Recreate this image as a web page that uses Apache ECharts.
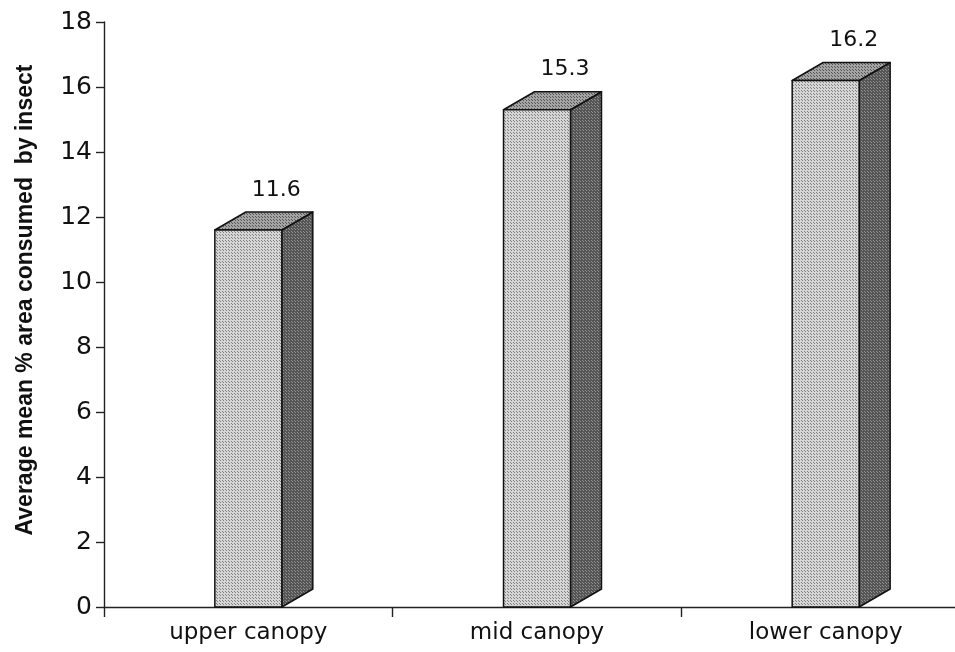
<!DOCTYPE html>
<html>
<head>
<meta charset="utf-8">
<script src="https://cdn.jsdelivr.net/npm/echarts@6/dist/echarts.min.js"></script>
<style>
  html, body { margin: 0; padding: 0; background: #fff; }
  #chart { width: 955px; height: 652px; }
</style>
</head>
<body>
<div id="chart"></div>
<script>
// Leaf area consumed by insects at three canopy levels
const categories = ['upper canopy', 'mid canopy', 'lower canopy'];
const consumed = [11.6, 15.3, 16.2];
const yTicks = [0, 2, 4, 6, 8, 10, 12, 14, 16, 18];
const yTitle = 'Average mean % area consumed  by insect';

// Small stippled tile used as a fill pattern
function stipple(bg, fg, step) {
  const c = document.createElement('canvas');
  c.width = step; c.height = step;
  const g = c.getContext('2d');
  g.fillStyle = bg;
  g.fillRect(0, 0, step, step);
  g.fillStyle = fg;
  g.fillRect(0, 0, 1, 1);
  g.fillRect(Math.floor(step / 2), Math.floor(step / 2), 1, 1);
  return { image: c, repeat: 'repeat' };
}

const frontFill = stipple('#d6d6d6', '#808080', 3);
const sideFill = stipple('#555555', '#8f8f8f', 3);
const topFill = stipple('#a4a4a4', '#555555', 3);

const numFont = 'DejaVu Sans, Verdana, sans-serif';

const chart = echarts.init(document.getElementById('chart'));

// 3D block: front face, right side face and top face, with value above
function renderBlock(params, api) {
  const idx = api.value(0);
  const val = api.value(1);
  const top = api.coord([idx, val]);
  const base = api.coord([idx, 0]);
  const band = api.size([1, 0])[0];
  const w = band * 0.232;
  const dx = 31, dy = 18;
  const x0 = top[0] - w / 2, x1 = top[0] + w / 2;
  const yT = top[1], yB = base[1];
  const edge = { stroke: '#111', lineWidth: 1.5, lineJoin: 'round' };
  return {
    type: 'group',
    children: [
      {
        type: 'polygon',
        shape: { points: [[x1, yT], [x1 + dx, yT - dy], [x1 + dx, yB - dy], [x1, yB]] },
        style: Object.assign({ fill: sideFill }, edge)
      },
      {
        type: 'polygon',
        shape: { points: [[x0, yT], [x0 + dx, yT - dy], [x1 + dx, yT - dy], [x1, yT]] },
        style: Object.assign({ fill: topFill }, edge)
      },
      {
        type: 'rect',
        shape: { x: x0, y: yT, width: w, height: yB - yT },
        style: Object.assign({ fill: frontFill }, edge)
      },
      {
        type: 'text',
        style: {
          text: String(val),
          x: top[0] + 28,
          y: yT - dy - 22,
          align: 'center',
          verticalAlign: 'middle',
          fontFamily: numFont,
          fontSize: 22,
          fill: '#111'
        }
      }
    ]
  };
}

chart.setOption({
  animation: false,
  backgroundColor: '#ffffff',
  grid: {
    left: 104, width: 866, top: 22, bottom: 45,
    containLabel: false,
    outerBoundsMode: 'none'
  },
  graphic: [{
    type: 'text',
    x: 26,
    y: 300,
    rotation: Math.PI / 2,
    style: {
      text: yTitle,
      align: 'center',
      verticalAlign: 'middle',
      fontFamily: 'Liberation Sans Narrow, Arial Narrow, Liberation Sans, sans-serif',
      fontWeight: 'bold',
      fontSize: 23,
      fill: '#111'
    }
  }],
  xAxis: {
    type: 'category',
    data: categories,
    boundaryGap: true,
    axisLine: { lineStyle: { color: '#222', width: 1.4 } },
    axisTick: { show: true, length: 10, alignWithLabel: false, lineStyle: { color: '#222', width: 1.4 } },
    axisLabel: {
      color: '#111',
      fontFamily: numFont,
      fontSize: 23,
      margin: 15
    },
    splitLine: { show: false }
  },
  yAxis: {
    type: 'value',
    min: yTicks[0],
    max: yTicks[yTicks.length - 1],
    interval: yTicks[1] - yTicks[0],
    axisLine: { show: true, lineStyle: { color: '#222', width: 1.4 } },
    axisTick: { show: true, length: 8, lineStyle: { color: '#222', width: 1.4 } },
    axisLabel: {
      color: '#111',
      fontFamily: numFont,
      fontSize: 25,
      margin: 12
    },
    splitLine: { show: false }
  },
  series: [{
    type: 'custom',
    renderItem: renderBlock,
    data: consumed.map((v, i) => [i, v]),
    encode: { x: 0, y: 1 },
    clip: false
  }]
});
</script>
</body>
</html>
